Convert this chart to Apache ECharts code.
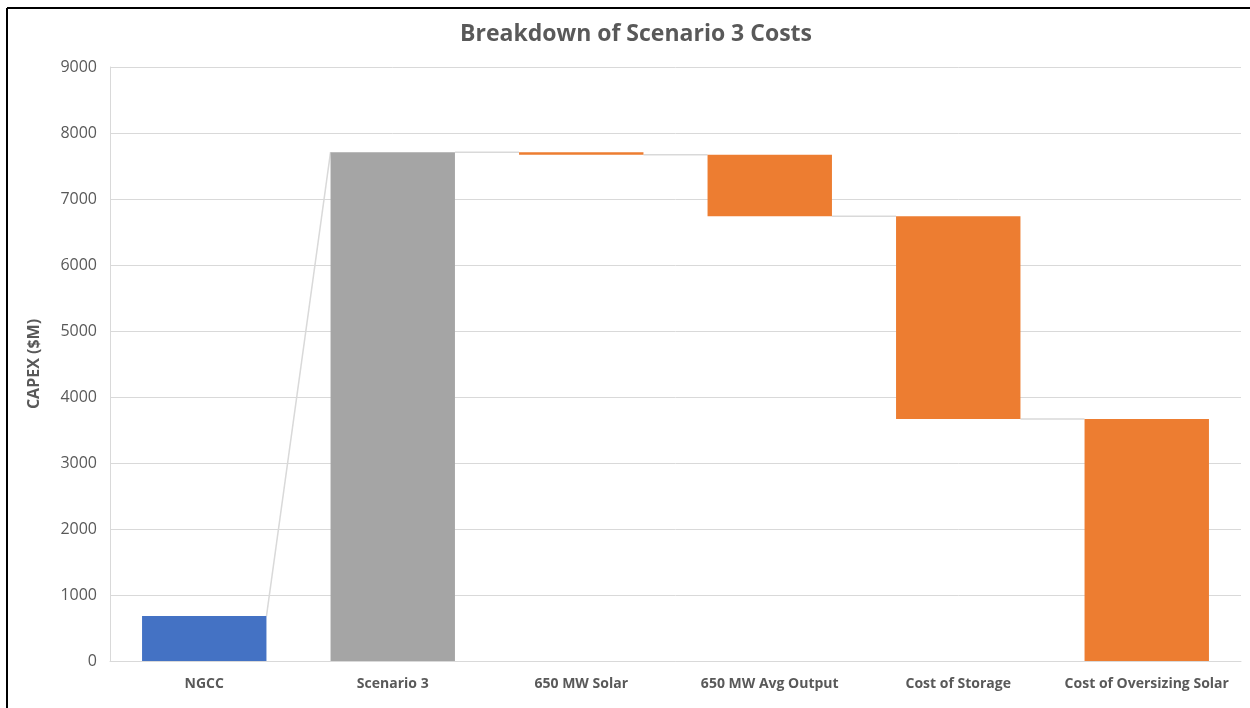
<!DOCTYPE html>
<html>
<head>
<meta charset="utf-8">
<title>Breakdown of Scenario 3 Costs</title>
<script src="https://cdn.jsdelivr.net/npm/echarts@6/dist/echarts.min.js"></script>
<style>
  html, body { margin: 0; padding: 0; background: #fff; }
  #chart { width: 1250px; height: 708px; }
</style>
</head>
<body>
<div id="chart"></div>
<script>
const categories = ["NGCC", "Scenario 3", "650 MW Solar", "650 MW Avg Output", "Cost of Storage", "Cost of Oversizing Solar"];
// NGCC and Scenario 3 are totals, the rest are decreases from Scenario 3
const totals = [680, 7710];
const decreases = [40, 930, 3075, 3665];
const yTicks = { min: 0, max: 9000, interval: 1000 };

const textColor = "#595959";
const gridColor = "#d9d9d9";
const colors = ["#4472c4", "#a5a5a5", "#ed7d31"];

// build waterfall: invisible base + visible bar
const base = [];
const visible = [];
const levels = []; // [start, end] level of each bar for connectors
totals.forEach((v) => {
  base.push(0);
  visible.push(v);
  levels.push([v, v]);
});
let running = totals[totals.length - 1];
decreases.forEach((d) => {
  const after = running - d;
  base.push(after);
  visible.push(d);
  levels.push([running, after]);
  running = after;
});

const barColors = categories.map((c, i) => (i === 0 ? colors[0] : i === 1 ? colors[1] : colors[2]));

// connector segments between neighbouring bars
const connectors = [];
for (let i = 0; i < categories.length - 1; i++) {
  connectors.push([i, levels[i][1], levels[i + 1][0]]);
}

const chart = echarts.init(document.getElementById("chart"));
chart.setOption({
  animation: false,
  textStyle: { fontFamily: "Open Sans" },
  title: {
    text: "Breakdown of Scenario 3 Costs",
    left: 631,
    textAlign: "center",
    top: 18,
    textStyle: { color: textColor, fontSize: 23, fontWeight: "bold", fontFamily: "Open Sans" },
  },
  graphic: [
    { type: "line", shape: { x1: 7, y1: 8, x2: 1250, y2: 8 }, style: { stroke: "#000", lineWidth: 2 } },
    { type: "line", shape: { x1: 7, y1: 8, x2: 7, y2: 708 }, style: { stroke: "#000", lineWidth: 2 } },
  ],
  grid: { left: 110, right: 9, top: 67, bottom: 47 },
  xAxis: {
    type: "category",
    data: categories,
    axisLine: { lineStyle: { color: gridColor } },
    axisTick: { show: false },
    axisLabel: { color: textColor, fontSize: 14, fontWeight: "bold", margin: 16, interval: 0 },
  },
  yAxis: {
    type: "value",
    min: yTicks.min,
    max: yTicks.max,
    interval: yTicks.interval,
    name: "CAPEX ($M)",
    nameLocation: "middle",
    nameGap: 68,
    nameTextStyle: { color: textColor, fontSize: 16, fontWeight: "bold" },
    axisLine: { show: true, lineStyle: { color: gridColor } },
    axisLabel: { color: textColor, fontSize: 16, margin: 13, formatter: (v) => String(v) },
    splitLine: { lineStyle: { color: gridColor } },
  },
  series: [
    {
      name: "base",
      type: "bar",
      stack: "wf",
      barWidth: "66%",
      itemStyle: { color: "transparent" },
      data: base,
      silent: true,
    },
    {
      name: "value",
      type: "bar",
      stack: "wf",
      barWidth: "66%",
      data: visible.map((v, i) => ({ value: v, itemStyle: { color: barColors[i] } })),
    },
    {
      name: "connectors",
      type: "custom",
      silent: true,
      z: 1,
      data: connectors,
      renderItem(params, api) {
        const i = api.value(0);
        const half = api.size([1, 0])[0] * 0.33;
        const p1 = api.coord([i, api.value(1)]);
        const p2 = api.coord([i + 1, api.value(2)]);
        return {
          type: "line",
          shape: { x1: p1[0] + half, y1: p1[1], x2: p2[0] - half, y2: p2[1] },
          style: { stroke: gridColor, lineWidth: 1.5 },
        };
      },
    },
  ],
});
</script>
</body>
</html>
